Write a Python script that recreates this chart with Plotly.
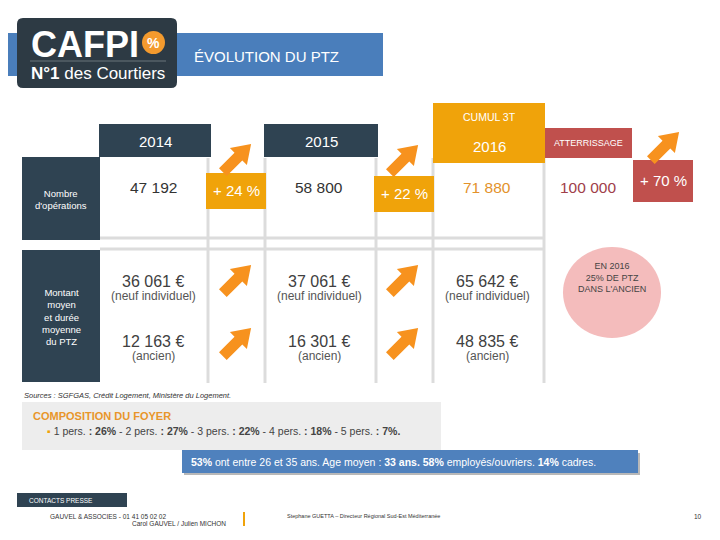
import plotly.graph_objects as go

# --- data ---
years = ["2014", "2015", "2016"]
operations = [47192, 58800, 71880]
atterrissage = 100000
growth = ["+ 24 %", "+ 22 %", "+ 70 %"]
montant_neuf = [36061, 37061, 65642]
montant_ancien = [12163, 16301, 48835]
foyer_sizes = ["1 pers.", "2 pers.", "3 pers.", "4 pers.", "5 pers."]
foyer_pct = [26, 27, 22, 18, 7]
profil_text = ("<b>53%</b> ont entre 26 et 35 ans. Age moyen : <b>33 ans. 58%</b> "
               "employés/ouvriers. <b>14%</b> cadres.")
sources = "Sources : SGFGAS, Crédit Logement, Ministère du Logement."

FONT = "Liberation Sans, Arial, sans-serif"
DARK = "#2f4352"
ORANGE = "#f0a30a"
RED = "#c0504d"
ARROW = "#f7921e"
GRID = "#dcdcdc"

# page body margin offsets the figure by 8px
OFF = 8


def fr(n):
    return f"{n:,}".replace(",", " ")


fig = go.Figure()
shapes = []
ann = []


def rect(x0, y0, x1, y1, color, line=None):
    shapes.append(dict(type="rect", xref="x", yref="y", x0=x0, y0=y0, x1=x1, y1=y1,
                       fillcolor=color, line=dict(width=0) if line is None else line,
                       layer="below"))


def text(x, y, t, size=12, color="#333", xanchor="center", bold=False, italic=False):
    if bold:
        t = f"<b>{t}</b>"
    if italic:
        t = f"<i>{t}</i>"
    ann.append(dict(x=x, y=y, xref="x", yref="y", text=t, showarrow=False,
                    xanchor=xanchor, yanchor="middle",
                    font=dict(family=FONT, size=size, color=color)))


def arrow(cx, cy, L=40, hl=18, hw=12, sw=5.5):
    d = (0.7071, -0.7071)
    p = (0.7071, 0.7071)
    loc = [(-L / 2, -sw), (L / 2 - hl, -sw), (L / 2 - hl, -hw), (L / 2, 0),
           (L / 2 - hl, hw), (L / 2 - hl, sw), (-L / 2, sw)]
    pts = [(cx + a * d[0] + b * p[0], cy + a * d[1] + b * p[1]) for a, b in loc]
    path = "M " + " L ".join(f"{x:.1f},{y:.1f}" for x, y in pts) + " Z"
    shapes.append(dict(type="path", xref="x", yref="y", path=path,
                       fillcolor=ARROW, line=dict(width=0)))


# header
rect(0, 33, 383, 76, "#4a7ebb")
shapes.append(dict(type="path", xref="x", yref="y",
                   path="M 23,18 L 171,18 Q 177,18 177,24 L 177,82 Q 177,88 171,88 "
                        "L 23,88 Q 17,88 17,82 L 17,24 Q 17,18 23,18 Z",
                   fillcolor="#2d3a44", line=dict(width=0)))
text(29, 44, "CAFPI", 36, "white", "left", bold=True)
shapes.append(dict(type="circle", xref="x", yref="y", x0=142, y0=31, x1=165, y1=54,
                   fillcolor="#f39a2e", line=dict(width=0)))
text(153.5, 43, "%", 14, "white", bold=True)
shapes.append(dict(type="line", xref="x", yref="y", x0=30, x1=166, y0=61, y1=61,
                   line=dict(color="#6b747b", width=1)))
text(29, 73, "<b>N°1</b> des Courtiers", 17, "white", "left")
text(192, 56, "ÉVOLUTION DU PTZ", 15, "white", "left")

# grid lines
for gx in [208, 265, 376, 433, 544]:
    shapes.append(dict(type="line", xref="x", yref="y", x0=gx, x1=gx, y0=158, y1=383,
                       line=dict(color=GRID, width=3), layer="below"))
for gy in [238, 249]:
    shapes.append(dict(type="line", xref="x", yref="y", x0=100, x1=544, y0=gy, y1=gy,
                       line=dict(color=GRID, width=3), layer="below"))

# column headers
col_x = [155, 321, 489]
rect(99, 124, 211, 157, DARK)
rect(264, 124, 378, 157, DARK)
rect(433, 103, 545, 163, ORANGE)
rect(545, 128, 632, 158, RED)
text(col_x[0], 141, years[0], 15, "white")
text(col_x[1], 141, years[1], 15, "white")
text(col_x[2], 117, "CUMUL 3T", 10.5, "white")
text(col_x[2], 146, years[2], 15, "white")
text(588, 143, "ATTERRISSAGE", 9, "white")

# row labels
rect(22, 157, 100, 240, DARK)
rect(22, 250, 100, 382, DARK)
text(61, 199, "Nombre<br>d'opérations", 9.5, "white")
text(61, 317, "Montant<br>moyen<br>et durée<br>moyenne<br>du PTZ", 9.5, "white")

# operations row
op_colors = ["#333333", "#333333", "#e3922b"]
for i in range(3):
    text(col_x[i] - 2, 187, fr(operations[i]), 15.5, op_colors[i])
text(588, 187, fr(atterrissage), 15.5, "#a0404a")

# growth boxes
growth_box = [(206, 173, 266, 209), (374, 176, 434, 212), (633, 160, 693, 202)]
growth_col = [ORANGE, ORANGE, RED]
for (x0, y0, x1, y1), g, c in zip(growth_box, growth, growth_col):
    rect(x0, y0, x1, y1, c)
    text((x0 + x1) / 2, (y0 + y1) / 2 - 1, g, 15, "white")

# arrows
arrow(237, 158)
arrow(404, 159)
arrow(665, 146)
for ax in [237, 404]:
    arrow(ax, 279)
    arrow(ax, 342)

# montant rows
for i in range(3):
    text(col_x[i] - 2, 281, f"{fr(montant_neuf[i])} €", 16, "#404040")
    text(col_x[i] - 2, 296, "(neuf individuel)", 12, "#555")
    text(col_x[i] - 2, 341, f"{fr(montant_ancien[i])} €", 16, "#404040")
    text(col_x[i] - 2, 356, "(ancien)", 12, "#555")

# pink ellipse
shapes.append(dict(type="circle", xref="x", yref="y", x0=563, y0=247, x1=661, y1=338,
                   fillcolor="#f4bcbc", line=dict(width=0)))
text(612, 277, "EN 2016<br>25% DE PTZ<br>DANS L'ANCIEN", 9, "#444")

# sources
text(22, 395, sources, 7.5, "#333", "left", italic=True)

# composition du foyer
rect(22, 402, 441, 450, "#ededed")
text(31, 416, "COMPOSITION DU FOYER", 11, "#e8962a", "left", bold=True)
parts = [f"{s} <b>: {p}%</b>" for s, p in zip(foyer_sizes, foyer_pct)]
line = f"<span style='color:{ORANGE}'>▪</span> " + " - ".join(parts) + "<b>.</b>"
text(45, 431, line, 10.5, "#444", "left")

# profil
rect(184, 453, 640, 475, "#b8b8b8")
rect(182, 450, 638, 473, "#4f81bd")
text(189, 462, profil_text, 10.5, "white", "left")

# footer
rect(17, 493, 127, 507, "#2f4352")
text(27, 500, "CONTACTS PRESSE", 6.5, "white", "left")
text(48, 516, "GAUVEL & ASSOCIES - 01 41 05 02 02", 6.5, "#333", "left")
text(130, 523, "Carol GAUVEL / Julien MICHON", 6.5, "#333", "left")
shapes.append(dict(type="line", xref="x", yref="y", x0=244, x1=244, y0=512, y1=526,
                   line=dict(color=ORANGE, width=2)))
text(285, 516, "Stephane GUETTA – Directeur Régional Sud-Est Méditerranée", 5.5, "#333", "left")
text(692, 516, "10", 6.5, "#333", "left")

fig.update_layout(
    width=720 - OFF, height=540 - OFF,
    margin=dict(l=0, r=0, t=0, b=0),
    paper_bgcolor="white", plot_bgcolor="white",
    xaxis=dict(range=[OFF, 720], visible=False, fixedrange=True),
    yaxis=dict(range=[540, OFF], visible=False, fixedrange=True),
    shapes=shapes, annotations=ann,
    showlegend=False,
)

fig.write_html("out.html")
